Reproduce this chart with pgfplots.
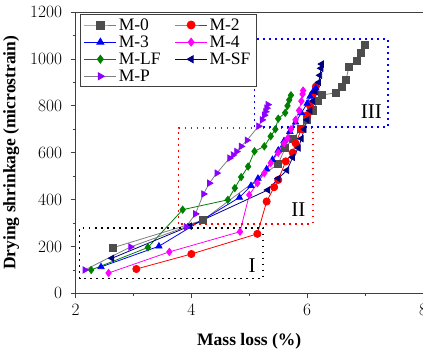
\documentclass[border=0pt]{standalone}
\usepackage{fontspec}
\setmainfont{Liberation Serif}
\usepackage{pgfplots}
\pgfplotsset{compat=1.18}

\definecolor{sqgrey}{HTML}{4D4D4D}
\definecolor{lngrey}{HTML}{7F7F7F}
\definecolor{cblue}{HTML}{0000FF}
\definecolor{cmag}{HTML}{FF00FF}
\definecolor{cgreen}{HTML}{008000}
\definecolor{cnavy}{HTML}{000080}
\definecolor{cviolet}{HTML}{8B00FF}

\begin{document}
\begin{tikzpicture}[trim axis right]
\begin{axis}[
  name=main,
  scale only axis,
  width=347pt, height=281pt,
  xmin=2, xmax=8, ymin=0, ymax=1200,
  xtick={2,4,6,8}, ytick={0,200,...,1200},
  minor x tick num=1, minor y tick num=1,
  tick align=outside, xtick pos=bottom, ytick pos=left,
  major tick length=5pt, minor tick length=3pt,
  axis line style={black!75, line width=1pt},
  every tick/.style={black!75, line width=0.8pt},
  /pgf/number format/.cd, 1000 sep={}, /pgfplots/.cd,
  tick label style={font=\fontsize{17}{19}\selectfont},
  yticklabel style={xshift=-5pt},
  xticklabel style={yshift=-2pt},
  label style={font=\fontsize{17.5}{20}\selectfont\bfseries},
  xlabel={Mass loss (\%)},
  ylabel={Drying shrinkage (microstrain)},
  xlabel style={yshift=-11pt},
  ylabel style={yshift=4pt},
  every axis plot/.append style={line width=0.8pt, mark size=3.6pt},
  legend columns=2,
  legend cell align=left,
  legend style={at={(0,1)}, anchor=north west, xshift=4pt, yshift=-2pt,
    draw=black!75, line width=0.8pt,
    font=\fontsize{17.5}{19}\selectfont,
    inner xsep=4pt, inner ysep=2pt, row sep=0pt,
    /tikz/every even column/.append style={column sep=12pt}},
  legend image code/.code={%
    \draw[mark repeat=2, mark phase=2, mark size=4pt] plot coordinates {(0pt,0pt) (16pt,0pt) (32pt,0pt)};},
]
% M-0
\addplot[lngrey, mark=square*, mark options={sqgrey, fill=sqgrey}] coordinates {
(2.65,195) (4.2,312) (5.5,553) (5.62,620) (5.75,660) (5.9,700) (6.0,740)
(6.1,780) (6.18,820) (6.26,846) (6.5,856) (6.6,880) (6.67,910) (6.72,965)
(6.86,990) (6.93,1027) (7.0,1060)};
\addlegendentry{M-0}
% M-2
\addplot[red, mark=*, mark options={red, fill=red}] coordinates {
(3.05,104) (4.0,168) (5.14,254) (5.3,392) (5.43,453) (5.5,484) (5.63,563)
(5.75,600) (5.8,640) (5.9,700) (6.0,760) (6.05,800) (6.1,850) (6.15,882)};
\addlegendentry{M-2}
% M-3
\addplot[cblue, mark=triangle*, mark options={cblue, fill=cblue}] coordinates {
(2.44,113) (3.44,201) (4.83,409) (5.03,459) (5.15,490) (5.3,530) (5.4,570)
(5.5,610) (5.6,650) (5.7,690) (5.8,730) (5.9,770) (6.0,810) (6.05,840)
(6.1,860) (6.15,875)};
\addlegendentry{M-3}
% M-4
\addplot[cmag, mark=diamond*, mark options={cmag, fill=cmag}] coordinates {
(2.57,87) (3.62,177) (4.84,263) (5.0,420) (5.14,470) (5.26,513) (5.37,556)
(5.5,600) (5.6,640) (5.66,660) (5.72,700) (5.8,740) (5.86,780) (5.9,820)
(5.92,850) (5.93,865)};
\addlegendentry{M-4}
% M-LF
\addplot[cgreen, mark=diamond*, mark options={cgreen, fill=cgreen}] coordinates {
(2.27,100) (3.25,196) (3.85,357) (4.63,399) (4.75,449) (4.86,496) (4.98,541)
(5.09,606) (5.26,627) (5.37,670) (5.45,700) (5.5,745) (5.62,770) (5.66,800)
(5.69,825) (5.72,845)};
\addlegendentry{M-LF}
% M-SF
\addplot[cnavy, mark=triangle*, mark options={cnavy, fill=cnavy, rotate=90}] coordinates {
(2.63,150) (3.97,287) (5.32,441) (5.5,490) (5.65,525) (5.75,580) (5.85,620)
(5.9,660) (5.95,700) (6.0,740) (6.05,780) (6.1,820) (6.15,860) (6.2,900)
(6.22,930) (6.24,960) (6.25,978)};
\addlegendentry{M-SF}
% M-P
\addplot[lngrey, mark=triangle*, mark options={cviolet, fill=cviolet, rotate=-90}] coordinates {
(2.16,100) (2.95,198) (3.91,284) (4.07,339) (4.21,424) (4.31,470) (4.44,513)
(4.66,577) (4.72,590) (4.78,605) (4.86,627) (4.96,653) (5.16,713) (5.22,740)
(5.26,760) (5.28,775) (5.3,790) (5.32,805)};
\addlegendentry{M-P}

% stage regions
\draw[black, line width=1.7pt, dash pattern=on 1.7pt off 4.3pt]
  (axis cs:2.07,63) rectangle (axis cs:5.24,280);
\draw[red, line width=1.7pt, dash pattern=on 1.7pt off 4.3pt]
  (axis cs:3.78,296) rectangle (axis cs:6.10,706);
\draw[cblue, line width=1.7pt, dash pattern=on 1.7pt off 4.3pt]
  (axis cs:5.09,710) rectangle (axis cs:7.40,1084);
\node[font=\fontsize{21}{23}\selectfont] at (axis cs:5.05,120) {I};
\node[font=\fontsize{21}{23}\selectfont] at (axis cs:5.85,356) {II};
\node[font=\fontsize{21}{23}\selectfont] at (axis cs:7.11,777) {III};
\end{axis}
% headroom above the frame
\path (main.north west) ++(0,12pt);
\end{tikzpicture}
\end{document}
